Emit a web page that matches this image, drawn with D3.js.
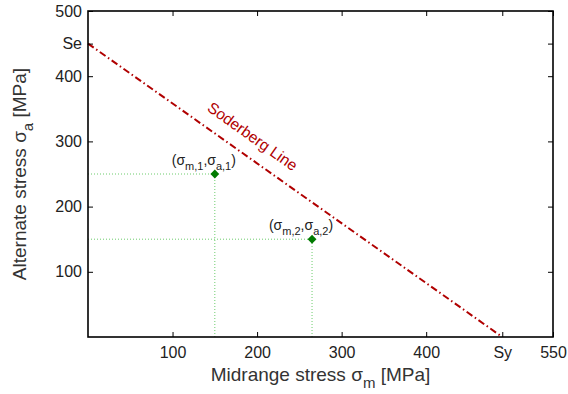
<!DOCTYPE html>
<html>
<head>
<meta charset="utf-8">
<script src="https://cdn.jsdelivr.net/npm/d3@7"></script>
<style>
  body { margin: 0; background: #fff; }
  text { font-family: "Liberation Sans", Arial, sans-serif; }
</style>
</head>
<body>
<div id="chart"></div>
<script>
// material strengths [MPa]
const Se = 450;
const Sy = 490;

// stress states (midrange, alternate)
const stressPoints = [
    { sm: 150, sa: 250, label: "1" },
    { sm: 265, sa: 150, label: "2" }
];

// tick values and labels
const xTickValues = [100, 200, 300, 400, 490, 550];
const xTickLabels = ["100", "200", "300", "400", "Sy", "550"];
const yTickValues = [100, 200, 300, 400, 450, 500];
const yTickLabels = ["100", "200", "300", "400", "Se", "500"];

const xDomain = [0, 550];
const yDomain = [0, 500];

// set svg size and margins
const width = 568;
const height = 394;
const margin = { top: 11, left: 88, right: 15, bottom: 57 };

const svg = d3.select("#chart")
    .append("svg")
    .attr("width", width)
    .attr("height", height);

const x = d3.scaleLinear()
    .domain(xDomain)
    .range([margin.left, width - margin.right]);

const y = d3.scaleLinear()
    .domain(yDomain)
    .range([height - margin.bottom, margin.top]);

// dotted guide lines to each point
const guides = svg.append("g")
    .attr("stroke", "#6ccc6c")
    .attr("stroke-width", 1)
    .attr("stroke-dasharray", "1,2");

stressPoints.forEach(p => {
    guides.append("line")
        .attr("x1", x(0)).attr("y1", y(p.sa))
        .attr("x2", x(p.sm)).attr("y2", y(p.sa));
    guides.append("line")
        .attr("x1", x(p.sm)).attr("y1", y(0))
        .attr("x2", x(p.sm)).attr("y2", y(p.sa));
});

// Soderberg line
svg.append("line")
    .attr("x1", x(0)).attr("y1", y(Se))
    .attr("x2", x(Sy)).attr("y2", y(0))
    .attr("stroke", "#b00000")
    .attr("stroke-width", 2)
    .attr("stroke-dasharray", "7,3,1.5,3");

const angle = Math.atan2(y(0) - y(Se), x(Sy) - x(0)) * 180 / Math.PI;
svg.append("text")
    .attr("transform", `translate(${x(191)},${y(301)}) rotate(${angle})`)
    .attr("text-anchor", "middle")
    .attr("font-size", 15.5)
    .attr("fill", "#b00000")
    .text("Soderberg Line");

// points
svg.append("g")
    .selectAll("path")
    .data(stressPoints)
    .join("path")
    .attr("d", d3.symbol(d3.symbolDiamond2, 50))
    .attr("transform", d => `translate(${x(d.sm)},${y(d.sa)})`)
    .attr("fill", "#007a00");

// point labels
const pl = svg.append("g")
    .selectAll("text")
    .data(stressPoints)
    .join("text")
    .attr("x", d => x(d.sm) - 11)
    .attr("y", d => y(d.sa) - 9)
    .attr("text-anchor", "middle")
    .attr("font-size", 14)
    .attr("fill", "#222");

pl.each(function(d) {
    const t = d3.select(this);
    t.append("tspan").text("(σ");
    t.append("tspan").attr("font-size", 11).attr("dy", 5).text("m," + d.label);
    t.append("tspan").attr("dy", -5).text(",σ");
    t.append("tspan").attr("font-size", 11).attr("dy", 5).text("a," + d.label);
    t.append("tspan").attr("dy", -5).text(")");
});

// axes box
svg.append("rect")
    .attr("x", x(0)).attr("y", y(500))
    .attr("width", x(550) - x(0))
    .attr("height", y(0) - y(500))
    .attr("fill", "none")
    .attr("stroke", "#000")
    .attr("stroke-width", 1.6);

const tickLen = 5;
const tickStyle = g => g
    .call(g => g.select(".domain").remove())
    .call(g => g.selectAll(".tick line").attr("stroke", "#000").attr("stroke-width", 1))
    .call(g => g.selectAll(".tick text").attr("font-size", 16).attr("fill", "#222")
        .attr("font-family", "Liberation Sans, Arial, sans-serif"));

svg.append("g")
    .attr("transform", `translate(0,${y(0)})`)
    .call(d3.axisBottom(x).tickValues(xTickValues)
        .tickFormat((d, i) => xTickLabels[i]).tickSizeInner(-tickLen).tickPadding(10))
    .call(tickStyle);

svg.append("g")
    .attr("transform", `translate(0,${y(500)})`)
    .call(d3.axisTop(x).tickValues(xTickValues).tickFormat("").tickSizeInner(-tickLen))
    .call(tickStyle);

svg.append("g")
    .attr("transform", `translate(${x(0)},0)`)
    .call(d3.axisLeft(y).tickValues(yTickValues)
        .tickFormat((d, i) => yTickLabels[i]).tickSizeInner(-tickLen).tickPadding(6))
    .call(tickStyle);

svg.append("g")
    .attr("transform", `translate(${x(550)},0)`)
    .call(d3.axisRight(y).tickValues(yTickValues).tickFormat("").tickSizeInner(-tickLen))
    .call(tickStyle);

// axis titles
const xt = svg.append("text")
    .attr("x", (x(0) + x(550)) / 2)
    .attr("y", 381)
    .attr("text-anchor", "middle")
    .attr("font-size", 19)
    .attr("fill", "#333");
xt.append("tspan").text("Midrange stress σ");
xt.append("tspan").attr("font-size", 15).attr("dy", 7).text("m");
xt.append("tspan").attr("dy", -7).text(" [MPa]");

const yt = svg.append("text")
    .attr("transform", `translate(26,${(y(0) + y(500)) / 2}) rotate(-90)`)
    .attr("text-anchor", "middle")
    .attr("font-size", 19)
    .attr("fill", "#333");
yt.append("tspan").text("Alternate stress σ");
yt.append("tspan").attr("font-size", 15).attr("dy", 7).text("a");
yt.append("tspan").attr("dy", -7).text(" [MPa]");
</script>
</body>
</html>
